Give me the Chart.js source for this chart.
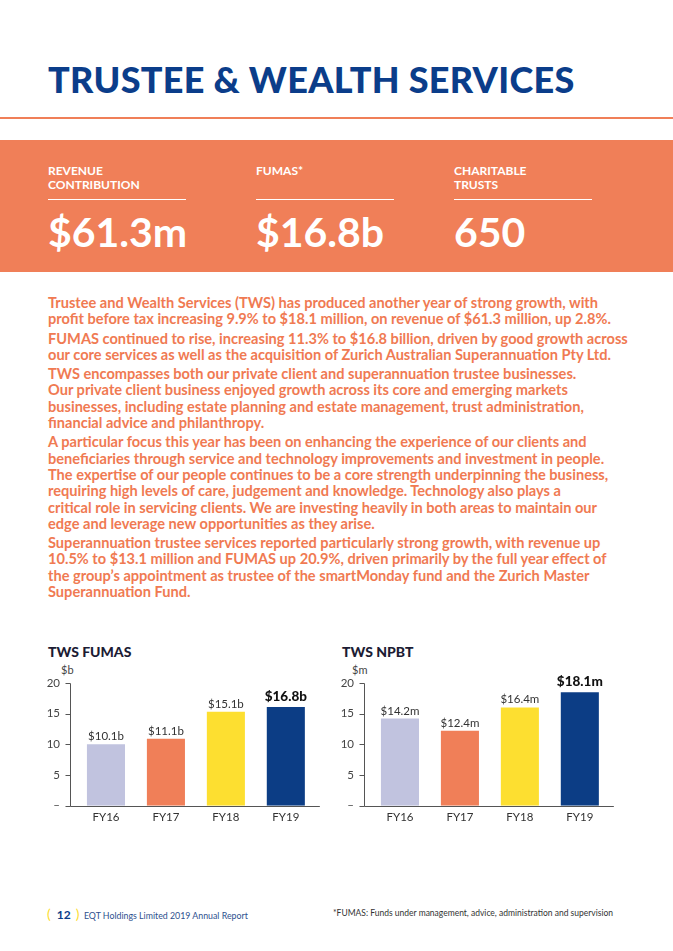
<!DOCTYPE html>
<html>
<head>
<meta charset="utf-8">
<script src="https://cdn.jsdelivr.net/npm/chart.js@4"></script>
<style>
    body {
        margin: 0;
        width: 673px;
        height: 951px;
        position: relative;
        background: #fff;
        font-family: "Lato", "DejaVu Sans", sans-serif;
        overflow: hidden;
    }
    .abs { position: absolute; }
    #title {
        left: 48px;
        top: 57px;
        font-size: 36px;
        font-weight: 900;
        color: #0b3d8a;
        letter-spacing: 0.3px;
        white-space: nowrap;
    }
    #rule {
        left: 0;
        top: 117px;
        width: 673px;
        height: 2px;
        background: #f07f58;
    }
    #band {
        left: 0;
        top: 140px;
        width: 673px;
        height: 132px;
        background: #f07f58;
        color: #fff;
    }
    .stat { position: absolute; top: 24px; width: 138px; }
    .stat .lbl {
        font-size: 12px;
        font-weight: 700;
        line-height: 14px;
        height: 30px;
        border-bottom: 1.5px solid #fff;
        padding-bottom: 5px;
    }
    .stat .num {
        font-size: 41px;
        font-weight: 700;
        margin-top: 8px;
        white-space: nowrap;
        line-height: 48px;
    }
    #body {
        left: 48px;
        top: 295px;
        color: #f07a52;
        font-size: 14.6px;
        font-weight: 700;
        line-height: 16.3px;
        white-space: nowrap;
    }
    #body p { margin: 0 0 3px 0; }
    .ctitle {
        font-size: 14px;
        font-weight: 900;
        color: #1c1c34;
        top: 643px;
    }
    .cunit {
        font-size: 11px;
        color: #444;
        top: 663px;
    }
    canvas { position: absolute; }
    #footer {
        left: 47px;
        top: 905px;
        font-size: 8.8px;
        color: #2d4f8e;
        white-space: nowrap;
    }
    #footer .par { color: #fddc2e; font-size: 14px; font-weight: 400; }
    #footer .pg { color: #0b3d8a; font-size: 12px; font-weight: 700; margin: 0 5px 0 6px; }
    #note {
        left: 333px;
        top: 908px;
        font-size: 8.5px;
        color: #333;
        white-space: nowrap;
    }
</style>
</head>
<body>
<div id="title" class="abs">TRUSTEE &amp; WEALTH SERVICES</div>
<div id="rule" class="abs"></div>
<div id="band" class="abs">
    <div class="stat" style="left:48px"><div class="lbl">REVENUE<br>CONTRIBUTION</div><div class="num">$61.3m</div></div>
    <div class="stat" style="left:256px"><div class="lbl">FUMAS*</div><div class="num">$16.8b</div></div>
    <div class="stat" style="left:454px"><div class="lbl">CHARITABLE<br>TRUSTS</div><div class="num">650</div></div>
</div>

<div id="body" class="abs">
<p>Trustee and Wealth Services (TWS) has produced another year of strong growth, with<br>
profit before tax increasing 9.9% to $18.1 million, on revenue of $61.3 million, up 2.8%.</p>
<p>FUMAS continued to rise, increasing 11.3% to $16.8 billion, driven by good growth across<br>
our core services as well as the acquisition of Zurich Australian Superannuation Pty Ltd.</p>
<p>TWS encompasses both our private client and superannuation trustee businesses.<br>
Our private client business enjoyed growth across its core and emerging markets<br>
businesses, including estate planning and estate management, trust administration,<br>
financial advice and philanthropy.</p>
<p>A particular focus this year has been on enhancing the experience of our clients and<br>
beneficiaries through service and technology improvements and investment in people.<br>
The expertise of our people continues to be a core strength underpinning the business,<br>
requiring high levels of care, judgement and knowledge. Technology also plays a<br>
critical role in servicing clients. We are investing heavily in both areas to maintain our<br>
edge and leverage new opportunities as they arise.</p>
<p>Superannuation trustee services reported particularly strong growth, with revenue up<br>
10.5% to $13.1 million and FUMAS up 20.9%, driven primarily by the full year effect of<br>
the group’s appointment as trustee of the smartMonday fund and the Zurich Master<br>
Superannuation Fund.</p>
</div>

<div class="abs ctitle" style="left:48px">TWS FUMAS</div>
<div class="abs cunit" style="left:61px">$b</div>
<div class="abs ctitle" style="left:342px">TWS NPBT</div>
<div class="abs cunit" style="left:352px">$m</div>

<canvas id="fumasChart" width="290" height="170" style="left:40px;top:660px"></canvas>
<canvas id="npbtChart" width="290" height="170" style="left:334px;top:660px"></canvas>

<div id="footer" class="abs"><span class="par">(</span><span class="pg">12</span><span class="par">)</span>&nbsp; EQT Holdings Limited 2019 Annual Report</div>
<div id="note" class="abs">*FUMAS: Funds under management, advice, administration and supervision</div>

<script>
const years = ["FY16", "FY17", "FY18", "FY19"];
const fumasValues = [10.0, 10.9, 15.3, 16.1];
const fumasLabels = ["$10.1b", "$11.1b", "$15.1b", "$16.8b"];
const npbtValues = [14.2, 12.2, 16.0, 18.5];
const npbtLabels = ["$14.2m", "$12.4m", "$16.4m", "$18.1m"];
const yTickValues = [0, 5, 10, 15, 20];
const yTickLabels = ["–", "5", "10", "15", "20"];
const barColors = ["#c1c3df", "#f07f58", "#fddf30", "#0c3d85"];

// axis lines, tick marks and value labels drawn from the chart's own scales
const axisPlugin = {
    id: "axisPlugin",
    afterDraw(chart, args, opts) {
        const ctx = chart.ctx;
        const y = chart.scales.y;
        const area = chart.chartArea;
        const bars = chart.getDatasetMeta(0).data;
        const ax = Math.round(area.left - 6) + 0.5;
        const y0 = Math.round(y.getPixelForValue(0)) + 0.5;
        const yTop = Math.round(y.getPixelForValue(20)) + 0.5;
        const last = bars[bars.length - 1];
        ctx.save();
        ctx.strokeStyle = "#555";
        ctx.lineWidth = 1;
        ctx.beginPath();
        ctx.moveTo(ax, yTop);
        ctx.lineTo(ax, y0);
        ctx.lineTo(last.x + last.width / 2 + 15, y0);
        yTickValues.forEach((v) => {
            const py = Math.round(y.getPixelForValue(v)) + 0.5;
            ctx.moveTo(ax - 5, py);
            ctx.lineTo(ax, py);
        });
        ctx.stroke();

        ctx.textAlign = "center";
        ctx.textBaseline = "bottom";
        bars.forEach((bar, i) => {
            const lastBar = i === bars.length - 1;
            ctx.fillStyle = lastBar ? "#111" : "#333";
            ctx.font = lastBar
                ? "900 13.5px Lato, sans-serif"
                : "11.5px Lato, sans-serif";
            ctx.fillText(opts.labels[i], bar.x, bar.y - (lastBar ? 4 : 2));
        });
        ctx.restore();
    },
};

function makeChart(id, values, labels) {
    const ctx = document.getElementById(id).getContext("2d");
    return new Chart(ctx, {
        type: "bar",
        data: {
            labels: years,
            datasets: [
                {
                    data: values,
                    backgroundColor: barColors,
                    barPercentage: 0.635,
                    categoryPercentage: 1,
                },
            ],
        },
        plugins: [axisPlugin],
        options: {
            responsive: false,
            animation: false,
            events: [],
            layout: {
                padding: { top: 23, right: 14.2, bottom: 6.3, left: 0 },
            },
            plugins: {
                legend: { display: false },
                tooltip: { enabled: false },
                axisPlugin: { labels: labels },
            },
            scales: {
                x: {
                    grid: { display: false, drawTicks: false },
                    border: { display: false },
                    ticks: {
                        padding: 5,
                        color: "#333",
                        font: { family: "Lato", size: 11.5 },
                    },
                    afterFit(s) {
                        s.height = 18;
                    },
                },
                y: {
                    min: 0,
                    max: 20,
                    grid: { display: false, drawTicks: false },
                    border: { display: false },
                    afterBuildTicks(s) {
                        s.ticks = yTickValues.map((v) => ({ value: v }));
                    },
                    ticks: {
                        padding: 16,
                        color: "#444",
                        font: { family: "Lato", size: 11.5 },
                        callback: (v) => yTickLabels[yTickValues.indexOf(v)],
                    },
                    afterFit(s) {
                        s.width = 36;
                    },
                },
            },
        },
    });
}

makeChart("fumasChart", fumasValues, fumasLabels);
makeChart("npbtChart", npbtValues, npbtLabels);
</script>
</body>
</html>
